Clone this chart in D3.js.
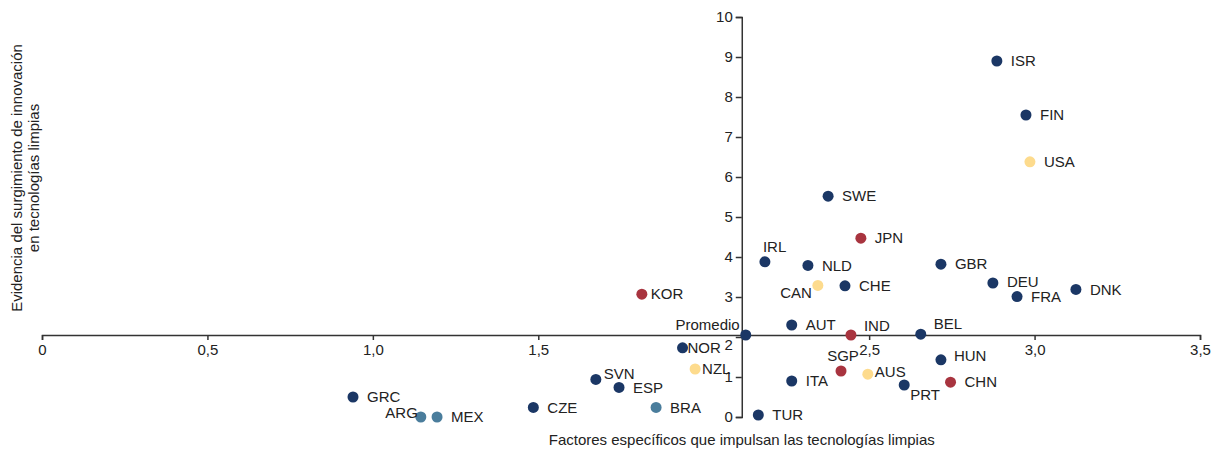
<!DOCTYPE html>
<html>
<head>
<meta charset="utf-8">
<script src="https://cdn.jsdelivr.net/npm/d3@7"></script>
<style>
  body { margin: 0; background: #fff; }
  text { font-family: "Liberation Sans", Arial, sans-serif; }
</style>
</head>
<body>
<div id="chart"></div>
<script>
// DATA
const countries = ["ISR","FIN","USA","SWE","JPN","IRL","NLD","GBR","CAN","CHE","DEU","FRA","DNK","KOR","Promedio","AUT","IND","BEL","NOR","HUN","NZL","SVN","ESP","ITA","SGP","AUS","PRT","CHN","GRC","ARG","MEX","CZE","BRA","TUR"];
const xValues = [2.886,2.974,2.986,2.376,2.475,2.185,2.315,2.717,2.345,2.427,2.874,2.947,3.125,1.813,2.127,2.266,2.445,2.656,1.936,2.717,1.974,1.674,1.744,2.266,2.415,2.496,2.606,2.746,0.940,1.145,1.194,1.485,1.856,2.165];
const yValues = [8.90,7.55,6.38,5.52,4.47,3.88,3.79,3.82,3.29,3.28,3.35,3.01,3.19,3.07,2.05,2.30,2.05,2.07,1.73,1.43,1.20,0.94,0.74,0.90,1.15,1.07,0.80,0.87,0.50,0.00,0.00,0.24,0.24,0.05];
const groups = ["a","a","b","a","c","a","a","a","b","a","a","a","a","c","a","a","c","a","a","a","b","a","a","a","c","b","a","c","a","d","d","a","d","a"];
const xTicks = [0, 0.5, 1, 1.5, 2.5, 3, 3.5];
const yTicks = [0,1,2,3,4,5,6,7,8,9,10];
const avgX = 2.115, avgY = 2.05;

const colors = {a: "#1b3765", b: "#fddb8d", c: "#a8343f", d: "#4a7d9c"};

// label placement (styling)
const labelPos = {
  KOR: {dx: 9}, NOR: {dx: 5}, NZL: {dx: 7},
  IRL: {dx: -2, dy: -15}, CAN: {dx: -6, dy: 7, anchor: "end"},
  Promedio: {dx: -6, dy: -10, anchor: "end"},
  IND: {dx: 13, dy: -9}, BEL: {dx: 13, dy: -10}, HUN: {dx: 13, dy: -4},
  SVN: {dx: 8, dy: -6}, SGP: {dx: 2, dy: -15, anchor: "middle"},
  AUS: {dx: 7, dy: -2}, PRT: {dx: 6, dy: 10},
  ARG: {dx: -3, dy: -4, anchor: "end"}, DEU: {dy: -1}
};

const fs = 15;
const width = 1212, height = 450;
const svg = d3.select("#chart").append("svg")
  .attr("width", width).attr("height", height);

const x = d3.scaleLinear().domain([0, 3.5]).range([42, 1200]);
const y = d3.scaleLinear().domain([0, 10]).range([417, 17]);

// X AXIS
const xAxis = svg.append("g")
  .attr("transform", `translate(0,${y(avgY)})`)
  .call(d3.axisBottom(x).tickValues(xTicks).tickSize(5).tickPadding(4)
    .tickFormat(d => d3.format(".1f")(d).replace(".", ",").replace(/^0,0$/, "0")));

// Y AXIS
const yAxis = svg.append("g")
  .attr("transform", `translate(${x(avgX)},0)`)
  .call(d3.axisLeft(y).tickValues(yTicks).tickSize(6).tickPadding(3));

[xAxis, yAxis].forEach(g => {
  g.select(".domain").attr("stroke", "#333").attr("stroke-width", 1.5);
  g.selectAll(".tick line").attr("stroke", "#333").attr("stroke-width", 1.5);
  g.selectAll(".tick text").attr("font-size", fs).attr("fill", "#222")
    .attr("font-family", "Liberation Sans, Arial, sans-serif");
});
yAxis.selectAll(".tick").filter(d => d === 2).select("text").attr("dy", "0.85em");

// POINTS
const idx = d3.range(countries.length);
svg.selectAll("circle.pt")
  .data(idx)
  .join("circle")
  .attr("class", "pt")
  .attr("cx", i => x(xValues[i]))
  .attr("cy", i => y(yValues[i]))
  .attr("r", 5.5)
  .attr("fill", i => colors[groups[i]]);

// LABELS
svg.selectAll("text.lbl")
  .data(idx)
  .join("text")
  .attr("class", "lbl")
  .attr("x", i => x(xValues[i]) + ((labelPos[countries[i]] || {}).dx ?? 14))
  .attr("y", i => y(yValues[i]) + ((labelPos[countries[i]] || {}).dy ?? 0))
  .attr("dy", "0.35em")
  .attr("text-anchor", i => (labelPos[countries[i]] || {}).anchor || "start")
  .attr("font-size", fs)
  .attr("fill", "#222")
  .text(i => countries[i]);

// AXIS TITLES
svg.append("text")
  .attr("x", x(avgX))
  .attr("y", 445)
  .attr("text-anchor", "middle")
  .attr("font-size", fs)
  .attr("fill", "#222")
  .text("Factores específicos que impulsan las tecnologías limpias");

const yTitle = svg.append("text")
  .attr("transform", "translate(22,178) rotate(-90)")
  .attr("text-anchor", "middle")
  .attr("font-size", fs)
  .attr("fill", "#222");
yTitle.append("tspan").attr("x", 0).attr("y", 0).text("Evidencia del surgimiento de innovación");
yTitle.append("tspan").attr("x", 0).attr("y", 17).text("en tecnologías limpias");
</script>
</body>
</html>
